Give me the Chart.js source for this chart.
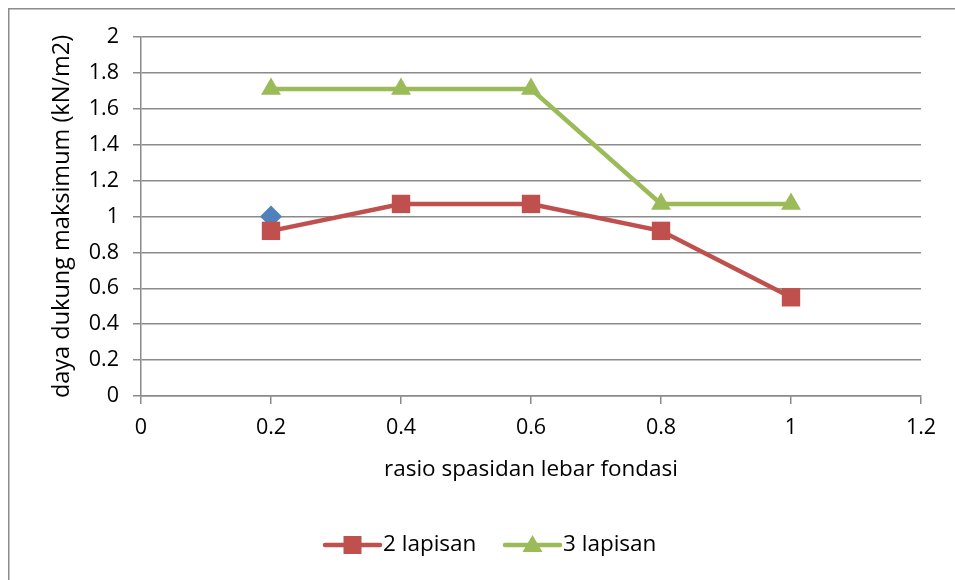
<!DOCTYPE html>
<html>
<head>
<meta charset="utf-8">
<script src="https://cdn.jsdelivr.net/npm/chart.js@4/dist/chart.umd.min.js"></script>
<style>
  html, body { margin: 0; padding: 0; background: #fff; }
  #wrap { width: 955px; height: 580px; position: relative; }
</style>
</head>
<body>
<div id="wrap"><canvas id="c" width="955" height="580"></canvas></div>
<script>
// Spacing ratio (x) and maximum bearing capacity (y) per number of layers
const spacingRatio = [0.2, 0.4, 0.6, 0.8, 1.0];
const twoLayers = [0.92, 1.07, 1.07, 0.92, 0.55];
const threeLayers = [1.71, 1.71, 1.71, 1.07, 1.07];
const oneLayerRatio = [0.2];
const oneLayer = [1.0];

const seriesNames = ['2 lapisan', '3 lapisan', '1 lapisan'];
const xTitle = 'rasio spasidan lebar fondasi';
const yTitle = 'daya dukung maksimum (kN/m2)';

const RED = '#c0504d', GREEN = '#9bbb59', BLUE = '#4f81bd', GRID = '#8a8a8a';
const FONT = '"Open Sans", Lato, sans-serif';

const pts = (xs, ys) => xs.map((x, i) => ({ x: x, y: ys[i] }));

// Outer frame and a legend with line+marker swatches
const framePlugin = {
  id: 'frame',
  beforeDraw(chart) {
    const ctx = chart.ctx;
    ctx.save();
    ctx.strokeStyle = '#8c8c8c';
    ctx.lineWidth = 1.5;
    ctx.strokeRect(8.75, 8.75, 1200, 1200);
    ctx.restore();
  },
  afterDraw(chart) {
    const ctx = chart.ctx;
    const y = 545;
    const items = [
      { ds: chart.data.datasets[0], x: 325 },
      { ds: chart.data.datasets[1], x: 505 }
    ];
    ctx.save();
    items.forEach(it => {
      ctx.strokeStyle = it.ds.borderColor;
      ctx.lineWidth = 4.5;
      ctx.lineCap = 'round';
      ctx.beginPath();
      ctx.moveTo(it.x, y);
      ctx.lineTo(it.x + 55, y);
      ctx.stroke();
      ctx.fillStyle = it.ds.pointBackgroundColor;
      const cx = it.x + 27.5;
      if (it.ds.pointStyle === 'rect') {
        ctx.fillRect(cx - 9, y - 9, 18, 18);
      } else {
        ctx.beginPath();
        ctx.moveTo(cx, y - 10);
        ctx.lineTo(cx + 10, y + 7);
        ctx.lineTo(cx - 10, y + 7);
        ctx.closePath();
        ctx.fill();
      }
      ctx.fillStyle = '#000';
      ctx.font = '22.5px ' + FONT;
      ctx.textBaseline = 'middle';
      ctx.textAlign = 'left';
      ctx.fillText(it.ds.label, it.x + 58, y);
    });
    ctx.restore();
  }
};

new Chart(document.getElementById('c'), {
  type: 'scatter',
  data: {
    datasets: [
      {
        label: seriesNames[0],
        data: pts(spacingRatio, twoLayers),
        showLine: true,
        borderColor: RED,
        backgroundColor: RED,
        pointBackgroundColor: RED,
        pointBorderColor: RED,
        borderWidth: 4.5,
        pointStyle: 'rect',
        pointRadius: 13,
        pointBorderWidth: 0,
        tension: 0
      },
      {
        label: seriesNames[1],
        data: pts(spacingRatio, threeLayers),
        showLine: true,
        borderColor: GREEN,
        backgroundColor: GREEN,
        pointBackgroundColor: GREEN,
        pointBorderColor: GREEN,
        borderWidth: 4.5,
        pointStyle: 'triangle',
        pointRadius: 11.5,
        pointBorderWidth: 0,
        tension: 0
      },
      {
        label: seriesNames[2],
        data: pts(oneLayerRatio, oneLayer),
        showLine: false,
        borderColor: BLUE,
        backgroundColor: BLUE,
        pointBackgroundColor: BLUE,
        pointBorderColor: BLUE,
        pointStyle: 'rectRot',
        pointRadius: 11,
        pointBorderWidth: 0
      }
    ]
  },
  options: {
    responsive: false,
    animation: false,
    layout: { padding: { top: 37, right: 34, bottom: 93, left: 44 } },
    plugins: {
      legend: { display: false },
      tooltip: { enabled: false }
    },
    scales: {
      x: {
        type: 'linear',
        min: 0,
        max: 1.2,
        afterFit(s) { s.height = 91; },
        ticks: {
          stepSize: 0.2,
          padding: 11,
          color: '#000',
          font: { family: FONT, size: 21.5 },
          callback: v => String(Math.round(v * 10) / 10)
        },
        grid: {
          drawOnChartArea: false,
          drawTicks: true,
          tickLength: 8,
          color: GRID,
          lineWidth: 1.5
        },
        border: { display: true, color: GRID, width: 1.5 },
        title: {
          display: true,
          text: xTitle,
          color: '#000',
          font: { family: FONT, size: 22.5 },
          padding: { top: 4, bottom: 4 }
        }
      },
      y: {
        type: 'linear',
        min: 0,
        max: 2,
        afterFit(s) { s.width = 141 - 44; },
        ticks: {
          stepSize: 0.2,
          padding: 14,
          color: '#000',
          font: { family: FONT, size: 21.5 },
          callback: v => String(Math.round(v * 10) / 10)
        },
        grid: {
          drawTicks: true,
          tickLength: 8,
          color: GRID,
          lineWidth: 1.5
        },
        border: { display: true, color: GRID, width: 1.5 },
        title: {
          display: true,
          text: yTitle,
          color: '#000',
          font: { family: FONT, size: 23.5 },
          padding: { top: 4, bottom: 4 }
        }
      }
    }
  },
  plugins: [framePlugin]
});
</script>
</body>
</html>
